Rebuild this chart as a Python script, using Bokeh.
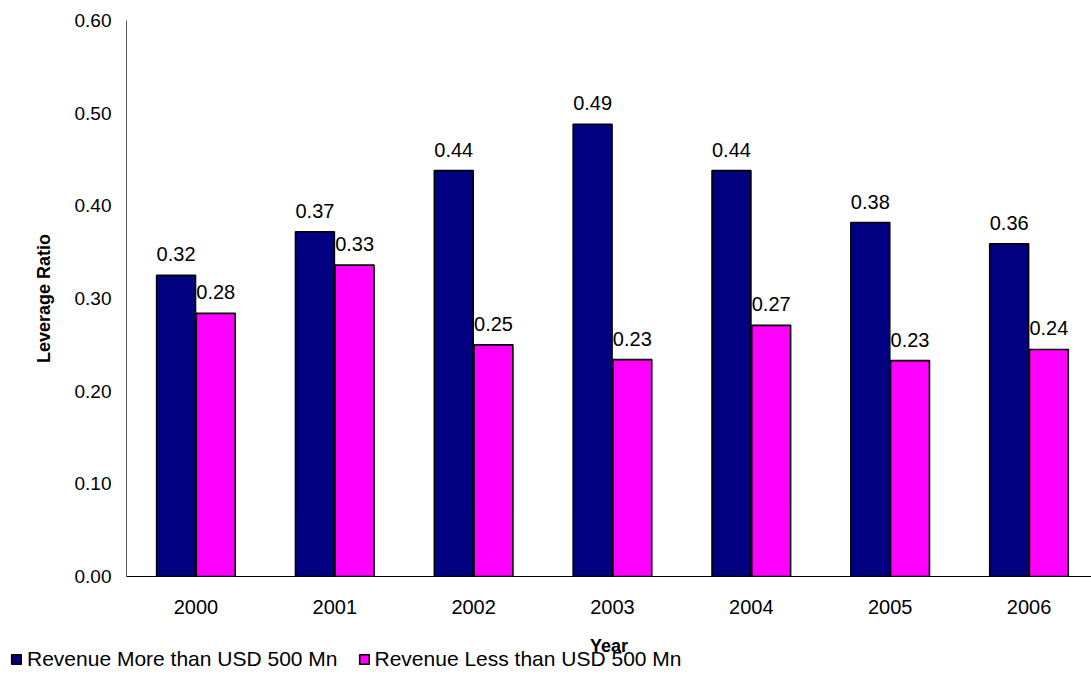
from bokeh.plotting import figure
from bokeh.models import Range1d, Legend, LegendItem, NumeralTickFormatter, FixedTicker, Label
from bokeh.core.properties import value
from bokeh.embed import file_html
from bokeh.resources import INLINE

years = ["2000", "2001", "2002", "2003", "2004", "2005", "2006"]
more_500 = [0.32, 0.37, 0.44, 0.49, 0.44, 0.38, 0.36]
less_500 = [0.28, 0.33, 0.25, 0.23, 0.27, 0.23, 0.24]
more_bar = [0.325, 0.372, 0.438, 0.488, 0.438, 0.382, 0.359]
less_bar = [0.284, 0.336, 0.250, 0.234, 0.271, 0.233, 0.245]
y_ticks = [0.0, 0.1, 0.2, 0.3, 0.4, 0.5, 0.6]
series_names = ["Revenue More than USD 500 Mn", "Revenue Less than USD 500 Mn"]
colors = ["#000080", "#FF00FF"]

FONT = "Liberation Sans"
xs = list(range(len(years)))
x_more = [x - 0.143 for x in xs]
x_less = [x + 0.143 for x in xs]

p = figure(width=1091, height=630, output_backend="svg", toolbar_location=None,
           x_range=Range1d(-0.5, 6.45), y_range=Range1d(0, 0.6),
           min_border_left=126, min_border_top=20, min_border_bottom=54, min_border_right=0)
p.outline_line_color = None
p.xgrid.visible = False
p.ygrid.visible = False

# pink labels first (partially hidden behind navy bars)
p.text(x=x_less, y=less_bar, text=[f"{v:.2f}" for v in less_500], text_align="center",
       text_baseline="bottom", y_offset=-14, text_font=value(FONT), text_font_size="20px",
       text_color="black")

p.vbar(x=x_less, top=less_bar, width=0.28, fill_color=colors[1], line_color="black", line_width=1.6)
p.vbar(x=x_more, top=more_bar, width=0.28, fill_color=colors[0], line_color="black", line_width=1.6)

p.text(x=x_more, y=more_bar, text=[f"{v:.2f}" for v in more_500], text_align="center",
       text_baseline="bottom", y_offset=-14, text_font=value(FONT), text_font_size="20px",
       text_color="black")

p.xaxis.ticker = FixedTicker(ticks=xs)
p.xaxis.major_label_overrides = {i: y for i, y in enumerate(years)}
p.xaxis.major_tick_line_color = None
p.xaxis.minor_tick_line_color = None
p.xaxis.major_label_standoff = 17
p.xaxis.major_label_text_font = FONT
p.xaxis.major_label_text_font_size = "20px"
p.xaxis.major_label_text_color = "black"
p.xaxis.axis_line_color = "black"

p.yaxis.ticker = FixedTicker(ticks=y_ticks)
p.yaxis.formatter = NumeralTickFormatter(format="0.00")
p.yaxis.major_tick_line_color = None
p.yaxis.minor_tick_line_color = None
p.yaxis.major_label_standoff = 9
p.yaxis.major_label_text_font = FONT
p.yaxis.major_label_text_font_size = "19px"
p.yaxis.major_label_text_color = "black"
p.yaxis.axis_line_color = "#555555"
p.yaxis.axis_label = "Leverage Ratio"
p.yaxis.axis_label_text_font = FONT
p.yaxis.axis_label_text_font_size = "18px"
p.yaxis.axis_label_text_font_style = "bold"
p.yaxis.axis_label_text_color = "black"
p.yaxis.axis_label_standoff = 18

# bottom strip: x-axis title and legend
q = figure(width=1091, height=45, output_backend="svg", toolbar_location=None,
           x_range=Range1d(-0.5, 6.45), y_range=Range1d(1, 2),
           min_border_left=0, min_border_top=0, min_border_bottom=0, min_border_right=0,
           x_axis_type=None, y_axis_type=None)
q.outline_line_color = None
q.xgrid.visible = False
q.ygrid.visible = False
# legend-only renderers: zero-size, outside the strip's visible range
d0 = q.vbar(x=x_more, top=more_bar, bottom=more_bar, width=0, fill_color=colors[0],
            line_color="black", line_width=1.6)
d1 = q.vbar(x=x_less, top=less_bar, bottom=less_bar, width=0, fill_color=colors[1],
            line_color="black", line_width=1.6)

q.add_layout(Label(x=608.5, y=30, x_units="screen", y_units="screen", text="Year",
                   text_align="center", text_baseline="middle", text_font=FONT,
                   text_font_size="18px", text_font_style="bold", text_color="black"))

legend = Legend(items=[LegendItem(label=series_names[0], renderers=[d0]),
                       LegendItem(label=series_names[1], renderers=[d1])],
                orientation="horizontal", location=(10, 4),
                glyph_width=12, glyph_height=12, label_standoff=5, spacing=20,
                padding=0, margin=0, border_line_color=None, background_fill_alpha=0,
                label_text_font=FONT, label_text_font_size="21px", label_text_color="black",
                label_height=14)
q.add_layout(legend)

open("out.html", "w").write(file_html([p, q], INLINE))
